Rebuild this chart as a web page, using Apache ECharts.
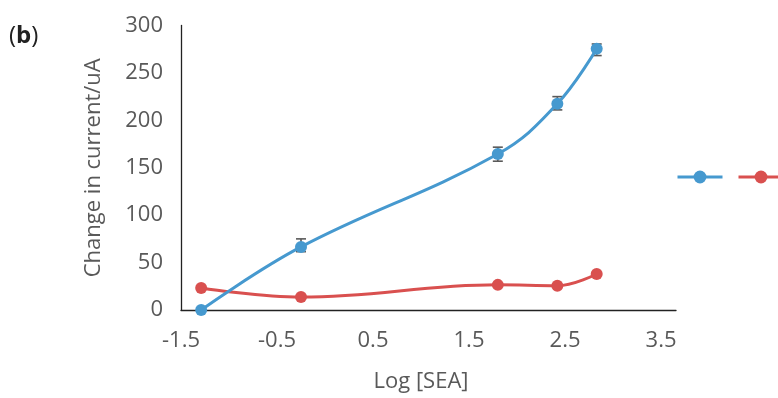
<!DOCTYPE html>
<html>
<head>
<meta charset="utf-8">
<script src="https://cdn.jsdelivr.net/npm/echarts@6/dist/echarts.min.js"></script>
<style>
html,body{margin:0;padding:0;background:#fff;}
#chart{width:778px;height:398px;}
</style>
</head>
<body>
<div id="chart"></div>
<script>
// ---- data ----
const xLog = [-1.29, -0.25, 1.80, 2.42, 2.83];
const seriesA = [0, 66.5, 164.5, 217.5, 275.5];     // blue
const seriesB = [23.2, 13.6, 26.5, 25.6, 38.0];      // red
const errUpA = [0, 8.5, 7.2, 7.5, 5];
const errDownA = [0, 5, 7.6, 6.5, 7.2];
const seriesNames = ['Series1', 'Series2'];
const xTitle = 'Log [SEA]';
const yTitle = 'Change in current/uA';

const FONT = 'Open Sans';
const TXT = '#595959';
const BLUE = '#4699CF';
const RED = '#D9504F';

const pairs = (xs, ys) => xs.map((x, i) => [x, ys[i]]);
const errData = xLog.map((x, i) => [x, seriesA[i], errUpA[i], errDownA[i]]);

const chart = echarts.init(document.getElementById('chart'), null, {renderer: 'canvas'});
chart.setOption({
  animation: false,
  backgroundColor: '#fff',
  textStyle: {fontFamily: FONT},
  grid: {left: 181, right: 102, top: 25.5, bottom: 82.3, containLabel: false},
  legend: {
    data: seriesNames,
    orient: 'horizontal',
    left: 676, top: 169, width: 300,
    padding: 0,
    itemWidth: 45, itemHeight: 16, itemGap: 13,
    lineStyle: {width: 3},
    formatter: () => '',
    selectedMode: false
  },
  graphic: [{
    type: 'text', left: 9, top: 24,
    style: {
      text: '{n|(}{b|b}{n|)}',
      rich: {
        n: {fontFamily: FONT, fontSize: 24, fill: '#222'},
        b: {fontFamily: FONT, fontSize: 24, fontWeight: 'bold', fill: '#222'}
      }
    }
  }],
  xAxis: {
    type: 'value',
    min: -1.5, max: 3.656, interval: 1,
    name: xTitle, nameLocation: 'middle', nameGap: 61,
    nameTextStyle: {fontFamily: FONT, fontSize: 22, color: TXT, padding: [0, 15, 0, 0]},
    axisLine: {show: true, onZero: false, lineStyle: {color: '#222', width: 1.3}},
    axisTick: {show: false},
    splitLine: {show: false},
    axisLabel: {fontFamily: FONT, fontSize: 22, color: TXT, margin: 20, showMaxLabel: false,
      formatter: v => v.toFixed(1)}
  },
  yAxis: {
    type: 'value',
    min: 0, max: 300, interval: 50,
    name: yTitle, nameLocation: 'middle', nameGap: 76,
    nameTextStyle: {fontFamily: FONT, fontSize: 22, color: TXT},
    axisLine: {show: true, onZero: false, lineStyle: {color: '#222', width: 1.3}},
    axisTick: {show: false},
    splitLine: {show: false},
    axisLabel: {fontFamily: FONT, fontSize: 22, color: TXT, margin: 18, padding: [0, 0, 5, 0]}
  },
  series: [
    {
      type: 'custom',
      name: 'err',
      z: 1,
      data: errData,
      encode: {x: 0, y: 1},
      silent: true,
      renderItem: (params, api) => {
        const x = api.value(0), y = api.value(1);
        const up = api.value(2), dn = api.value(3);
        if (!up && !dn) return null;
        const top = api.coord([x, y + up]);
        const bot = api.coord([x, y - dn]);
        const hw = 5;
        const st = {stroke: '#5a5a5a', lineWidth: 1.6};
        return {type: 'group', children: [
          {type: 'line', shape: {x1: top[0], y1: top[1], x2: bot[0], y2: bot[1]}, style: st},
          {type: 'line', shape: {x1: top[0] - hw, y1: top[1], x2: top[0] + hw, y2: top[1]}, style: st},
          {type: 'line', shape: {x1: bot[0] - hw, y1: bot[1], x2: bot[0] + hw, y2: bot[1]}, style: st}
        ]};
      }
    },
    {
      type: 'line', name: seriesNames[0], z: 3,
      data: pairs(xLog, seriesA),
      smooth: 0.4,
      symbol: 'circle', symbolSize: 12,
      color: BLUE,
      lineStyle: {color: BLUE, width: 3},
      itemStyle: {color: BLUE}
    },
    {
      type: 'line', name: seriesNames[1], z: 2,
      data: pairs(xLog, seriesB),
      smooth: 0.4,
      symbol: 'circle', symbolSize: 12,
      color: RED,
      lineStyle: {color: RED, width: 3},
      itemStyle: {color: RED}
    }
  ]
});
</script>
</body>
</html>
